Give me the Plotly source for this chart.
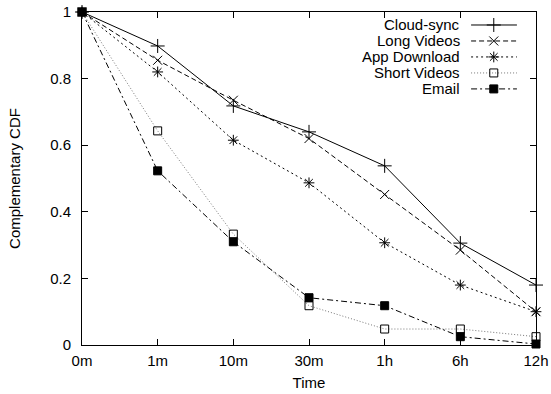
import plotly.graph_objects as go

categories = ["0m", "1m", "10m", "30m", "1h", "6h", "12h"]
series_names = ["Cloud-sync", "Long Videos", "App Download", "Short Videos", "Email"]
cloud_sync = [1.0, 0.898, 0.718, 0.640, 0.538, 0.306, 0.180]
long_videos = [1.0, 0.855, 0.735, 0.620, 0.452, 0.285, 0.100]
app_download = [1.0, 0.820, 0.615, 0.487, 0.307, 0.180, 0.100]
short_videos = [1.0, 0.643, 0.333, 0.118, 0.048, 0.048, 0.025]
email = [1.0, 0.523, 0.310, 0.142, 0.118, 0.025, 0.003]
y_ticks = [0, 0.2, 0.4, 0.6, 0.8, 1]
y_ticklabels = ["0", "0.2", "0.4", "0.6", "0.8", "1"]

values = [cloud_sync, long_videos, app_download, short_videos, email]
styles = [
    dict(color="black", dash="solid", symbol="cross-thin-open", size=10),
    dict(color="black", dash="5px,3px", symbol="x-thin-open", size=9),
    dict(color="black", dash="2px,3px", symbol="asterisk-open", size=9),
    dict(color="#777777", dash="1px,2px", symbol="square-open", size=8),
    dict(color="black", dash="6px,3px,2px,3px", symbol="square", size=8),
]

FS = 15
xs = list(range(len(categories)))
fig = go.Figure()
for name, vals, st in zip(series_names, values, styles):
    fig.add_trace(go.Scatter(
        x=xs, y=vals, name=name, mode="lines",
        line=dict(color=st["color"], width=1, dash=st["dash"]),
        showlegend=False, cliponaxis=False))
for name, vals, st in zip(series_names, values, styles):
    fig.add_trace(go.Scatter(
        x=xs, y=vals, name=name, mode="markers",
        marker=dict(symbol=st["symbol"], size=st["size"], color="black",
                    line=dict(color="black", width=1)),
        showlegend=False, cliponaxis=False))

# custom gnuplot-style legend (text left, sample right)
leg_y = [0.961, 0.913, 0.865, 0.817, 0.769]
lx0, lx1, lxm, ltx = 0.857, 0.958, 0.907, 0.837
for name, st, yy in zip(series_names, styles, leg_y):
    fig.add_trace(go.Scatter(
        x=[lx0, lx1], y=[yy, yy], mode="lines", xaxis="x2", yaxis="y2",
        line=dict(color=st["color"], width=1, dash=st["dash"]), showlegend=False))
    fig.add_trace(go.Scatter(
        x=[lxm], y=[yy], mode="markers", xaxis="x2", yaxis="y2",
        marker=dict(symbol=st["symbol"], size=st["size"], color="black",
                    line=dict(color="black", width=1)), showlegend=False))
    fig.add_annotation(x=ltx, y=yy, xref="paper", yref="paper", text=name,
                       showarrow=False, xanchor="right", yanchor="middle",
                       font=dict(size=FS, color="black"))

axis_common = dict(showgrid=False, zeroline=False, showline=True, linecolor="black",
                   linewidth=1, mirror="allticks", ticks="inside", ticklen=6,
                   tickcolor="black", tickfont=dict(size=FS, color="black"),
                   automargin=False)
fig.update_layout(
    width=551, height=394,
    margin=dict(l=82, r=15, t=12, b=49),
    paper_bgcolor="white", plot_bgcolor="white",
    font=dict(family="Liberation Sans, Arial, sans-serif", size=FS, color="black"),
    xaxis=dict(range=[0, 6], tickvals=xs, ticktext=categories, ticklabelstandoff=2,
               title=dict(text="Time", standoff=9, font=dict(size=FS)), **axis_common),
    yaxis=dict(range=[0, 1], tickvals=y_ticks, ticktext=y_ticklabels, ticklabelstandoff=7,
               title=dict(text="Complementary CDF", standoff=25, font=dict(size=FS)),
               **axis_common),
    xaxis2=dict(range=[0, 1], overlaying="x", visible=False, fixedrange=True),
    yaxis2=dict(range=[0, 1], overlaying="y", visible=False, fixedrange=True),
)
fig.write_html("out.html")
